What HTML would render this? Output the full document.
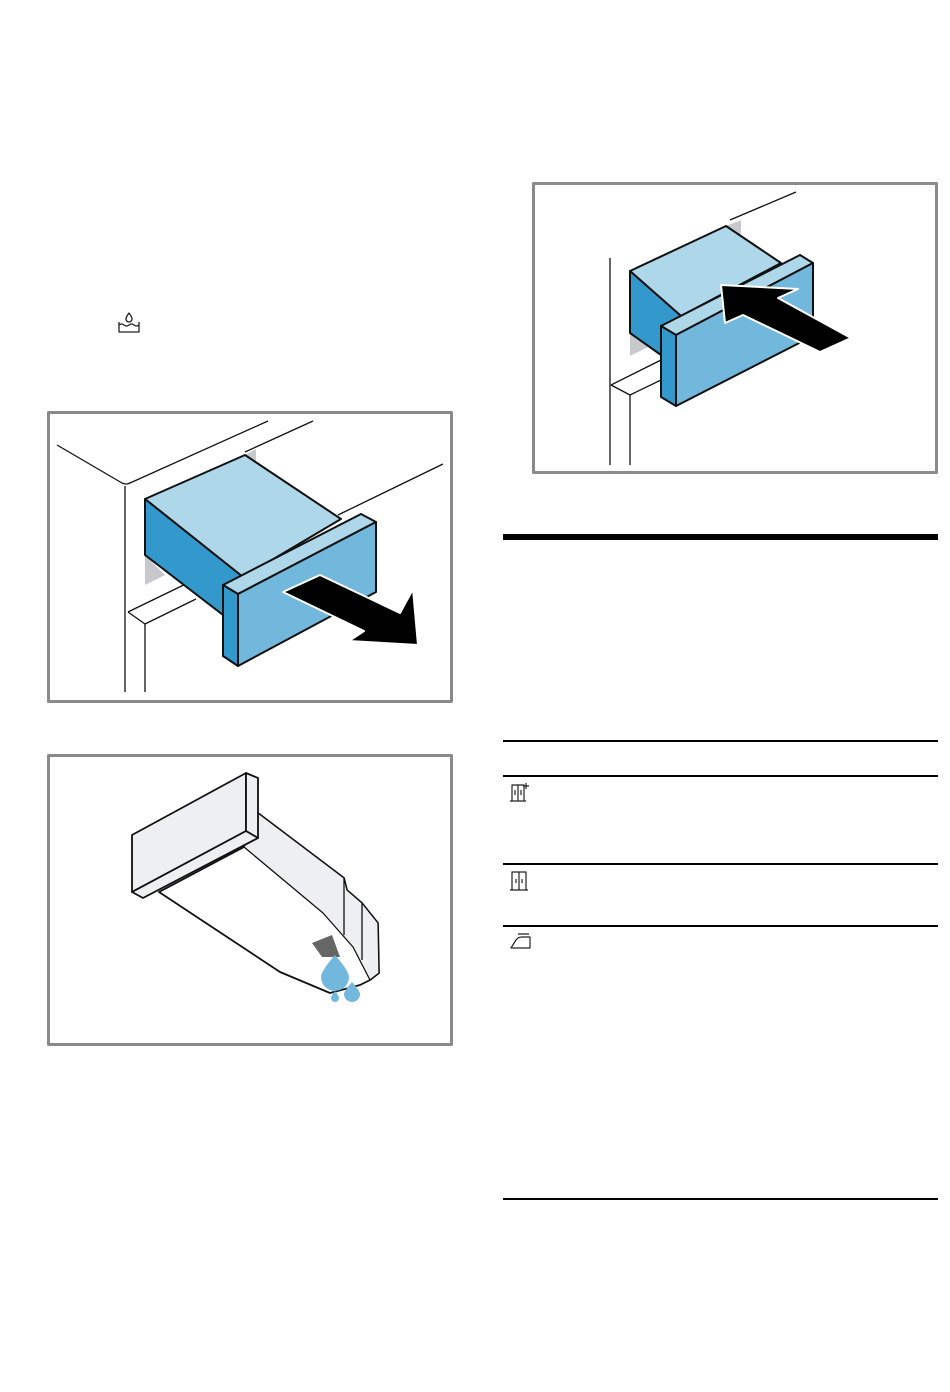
<!DOCTYPE html>
<html><head><meta charset="utf-8"><style>
html,body{margin:0;padding:0;background:#fff}
svg{display:block}
</style></head><body>
<svg width="950" height="1392" viewBox="0 0 950 1392" xmlns="http://www.w3.org/2000/svg" stroke-linejoin="round">
<rect x="48.5" y="412.5" width="403" height="289" fill="none" stroke="#8a8a8a" stroke-width="3"/>
<rect x="48.5" y="755.5" width="403" height="289" fill="none" stroke="#8a8a8a" stroke-width="3"/>
<rect x="533.5" y="183.5" width="403" height="289" fill="none" stroke="#8a8a8a" stroke-width="3"/>

<g fill="none" stroke="#222" stroke-width="1.3">
<path d="M119 322 v10 h20 v-10"/>
<path d="M119 325 q2.5 -2 5 0 t5 0 t5 0 t5 0"/>
<path d="M129 313 q-3 4 -3 6 a3 3 0 0 0 6 0 q0 -2 -3 -6z"/>
</g>

<g stroke="#111" fill="none" stroke-width="1.3">
<path d="M57 445 L122 483 Q126 485 130 483 L268 421"/>
<path d="M245 452 L313 421"/>
<path d="M125 486 V692"/>
<path d="M145 624 V692"/>
<path d="M338 515 L443 464"/>
<path d="M128 612 L196 579 M145 624 L196 599 M128 612 L145 624"/>
</g>
<polygon points="245,455 256,449 256,462" fill="#c6c8cc"/>
<polygon points="145,555 145,585 165,575" fill="#c6c8cc"/>
<g stroke="#111" stroke-width="2">
<polygon points="145,499 245,455 341,519 243,577" fill="#aed7ea"/>
<polygon points="145,499 145,555 223,615 243,577" fill="#3399cc"/>
<polygon points="223,585 361,514 376,522 238,594" fill="#aed7ea"/>
<polygon points="238,594 376,522 376,592 238,666" fill="#72b8dc"/>
<polygon points="223,585 238,594 238,666 223,656" fill="#3399cc"/>
</g>
<polygon points="283,592 320,575 400,613 413,589 418,645 349,641 364,631" fill="#000" stroke="#fff" stroke-width="2"/>

<g stroke="#111" fill="none" stroke-width="1.3">
<path d="M730 220 L796 192"/>
<path d="M610 258 V465"/>
<path d="M630 395 V465"/>
<path d="M611 385 L661 360 M630 395 L661 380 M611 385 L630 395"/>
</g>
<polygon points="726,226 741,220 741,235" fill="#c6c8cc"/>
<polygon points="630,333 630,356 650,346" fill="#c6c8cc"/>
<g stroke="#111" stroke-width="2">
<polygon points="630,271 726,226 781,263 681,316" fill="#aed7ea"/>
<polygon points="630,271 630,333 661,355 681,316" fill="#3399cc"/>
<polygon points="661,326 800,255 813,263 676,335" fill="#aed7ea"/>
<polygon points="676,335 813,263 813,336 676,406" fill="#72b8dc"/>
<polygon points="661,326 676,335 676,406 661,397" fill="#3399cc"/>
</g>
<polygon points="721,285 798,289 778,298 851,338 820,352 743,315 725,323" fill="#000" stroke="#fff" stroke-width="2"/>

<g stroke="#111" stroke-width="1.8" fill="#fff">
<polygon points="258,813 344,878 347,890 362,903 378,923 379,973 370,980 360,985 330,993 280,972 159,892 244,847"/>
<polygon points="258,813 344,878 347,890 362,903 378,923 379,973 370,980 353,947 323,913 244,847" fill="#eeeff3" stroke-width="1.3"/>
<path d="M344 878 V935 M362 903 V960" fill="none" stroke-width="1.3"/>
<polygon points="132,835 246,773 246,831 132,892" fill="#eeeff3"/>
<polygon points="246,773 258,778 258,838 246,831" fill="#eeeff3"/>
<polygon points="132,892 246,831 258,838 143,898" fill="#eeeff3"/>
</g>
<polygon points="312,943 332,935 340,957 322,957" fill="#666"/>
<path d="M335 955 q-14 16 -14 22 a14 14 0 0 0 28 0 q0 -6 -14 -22z" fill="#72b8dc"/>
<path d="M352 982 q-8 9 -8 12 a8 8 0 0 0 16 0 q0 -3 -8 -12z" fill="#72b8dc"/>
<path d="M335 991 q-4 5 -4 7 a4 4 0 0 0 8 0 q0 -2 -4 -7z" fill="#72b8dc"/>

<rect x="503" y="534" width="435" height="6" fill="#000"/>
<g fill="#000">
<rect x="503" y="740" width="435" height="2"/>
<rect x="503" y="775" width="435" height="2"/>
<rect x="503" y="863" width="435" height="2"/>
<rect x="503" y="925" width="435" height="2"/>
<rect x="503" y="1198" width="435" height="2"/>
</g>

<g fill="none" stroke="#222" stroke-width="1.2">
<path d="M512 801 V785 H524 V801 M510 801 H526 M518 785 V801 M515 790 V795 M521 790 V795 M526 783 V789 M523 786 H529"/>
<path d="M512 890 V872 H526 V890 M510 890 H528 M519 872 V890 M516 879 V883 M522 879 V883"/>
<path d="M511 948 L516 940 Q518 937 522 937 H530 V948 Z M518 934 H529"/>
</g>
</svg>
</body></html>
